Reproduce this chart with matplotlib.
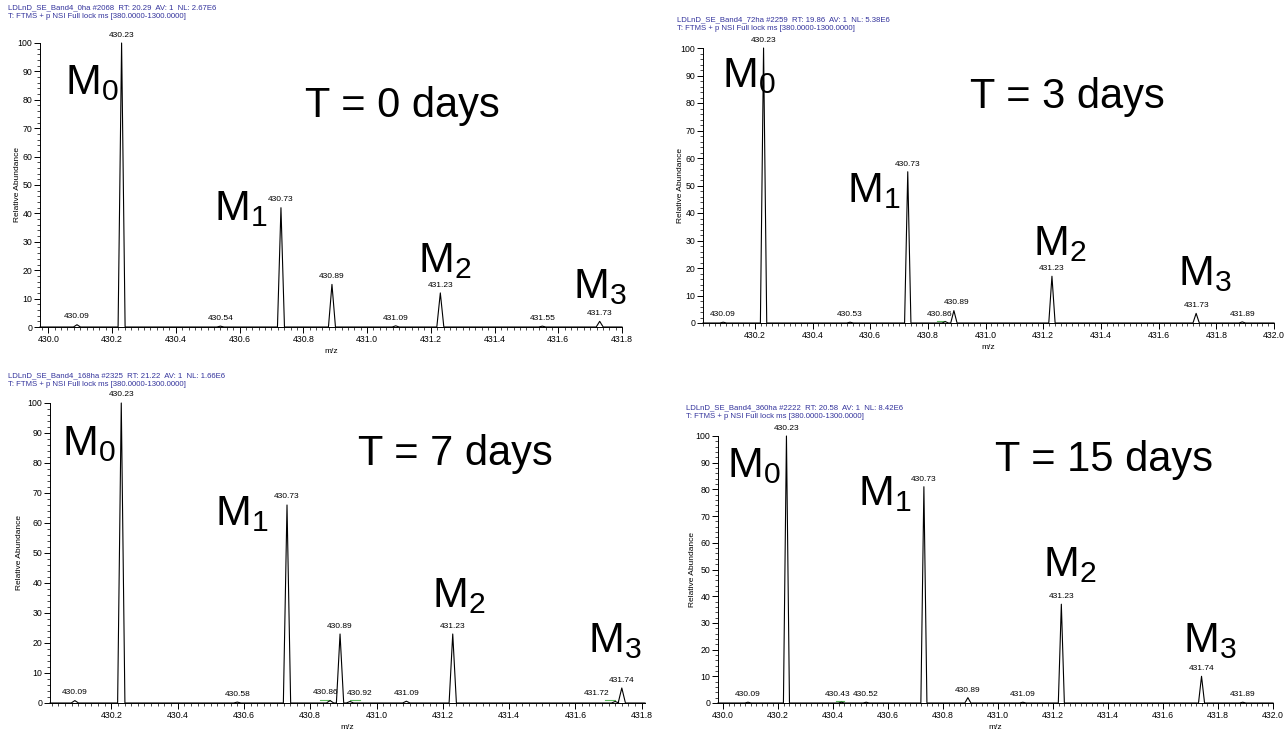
import numpy as np
import matplotlib
matplotlib.use("Agg")
import matplotlib.pyplot as plt
from matplotlib.ticker import MultipleLocator, FormatStrFormatter

# four isotope-envelope spectra (m/z, relative abundance)
mz_0d = [430.09, 430.23, 430.54, 430.73, 430.89, 431.09, 431.23, 431.55, 431.73]
ab_0d = [0.8, 100, 0.3, 42, 15, 0.4, 12, 0.3, 2]

mz_3d = [430.09, 430.23, 430.53, 430.73, 430.86, 430.89, 431.23, 431.73, 431.89]
ab_3d = [0.3, 100, 0.3, 55, 0.5, 4.5, 17, 3.5, 0.4]

mz_7d = [430.09, 430.23, 430.58, 430.73, 430.86, 430.89, 430.92, 431.09, 431.23, 431.72, 431.74]
ab_7d = [0.8, 100, 0.3, 66, 0.8, 23, 0.5, 0.6, 23, 0.5, 5]

mz_15d = [430.09, 430.23, 430.43, 430.52, 430.73, 430.89, 431.09, 431.23, 431.74, 431.89]
ab_15d = [0.3, 100, 0.3, 0.3, 81, 2, 0.3, 37, 10, 0.3]

# small green marks drawn by the software under some labels (m/z from, to)
green_0d = []
green_3d = [(430.83, 430.86)]
green_7d = [(430.83, 430.86), (430.92, 430.95), (431.69, 431.72)]
green_15d = [(430.41, 430.44)]

headers = [
    ("LDLnD_SE_Band4_0ha #2068  RT: 20.29  AV: 1  NL: 2.67E6",
     "T: FTMS + p NSI Full lock ms [380.0000-1300.0000]"),
    ("LDLnD_SE_Band4_72ha #2259  RT: 19.86  AV: 1  NL: 5.38E6",
     "T: FTMS + p NSI Full lock ms [380.0000-1300.0000]"),
    ("LDLnD_SE_Band4_168ha #2325  RT: 21.22  AV: 1  NL: 1.66E6",
     "T: FTMS + p NSI Full lock ms [380.0000-1300.0000]"),
    ("LDLnD_SE_Band4_360ha #2222  RT: 20.58  AV: 1  NL: 8.42E6",
     "T: FTMS + p NSI Full lock ms [380.0000-1300.0000]"),
]
titles = ["T = 0 days", "T = 3 days", "T = 7 days", "T = 15 days"]

font = "Liberation Sans"
blue = "#33339c"

W, H = 1285, 731
fig = plt.figure(figsize=(W / 100, H / 100), dpi=100)

# panel layout in pixels: left, right, top(100), bottom(0)
boxes = [(40, 622, 43, 327), (703, 1274, 48, 323), (50, 645, 403, 703), (718, 1273, 436, 703)]
xlims = [(429.974, 431.8), (430.02, 432.0), (430.015, 431.81), (429.981, 432.0)]
first_tick = [430.0, 430.2, 430.2, 430.0]
ylabel_x = [21, 684, 23, 696]
header_pos = [(8, 8), (677, 20), (8, 376), (686, 408)]
title_pos = [(305, 106), (970, 97), (358, 454), (995, 460)]
# M0..M3 label positions (left x, center y)
m_pos = [
    [(65, 83), (214, 209), (418, 261), (573, 287)],
    [(722, 76), (847, 191), (1033, 244), (1178, 274)],
    [(62, 444), (215, 514), (432, 596), (588, 641)],
    [(727, 466), (858, 494), (1043, 565), (1183, 641)],
]
# horizontal nudges of peak labels (m/z units) where the software moved them aside
nudges = [
    {},
    {430.86: -0.02, 430.89: 0.01},
    {430.86: -0.015, 430.92: 0.03, 431.72: -0.055},
    {430.43: -0.015},
]
spectra = [(mz_0d, ab_0d), (mz_3d, ab_3d), (mz_7d, ab_7d), (mz_15d, ab_15d)]
greens = [green_0d, green_3d, green_7d, green_15d]
half_w = 0.011

for i, (mz, ab) in enumerate(spectra):
    l, r, t, b = boxes[i]
    ax = fig.add_axes([l / W, 1 - b / H, (r - l) / W, (b - t) / H])
    x0, x1 = xlims[i]
    mz = np.array(mz)
    ab = np.array(ab)
    # profile trace: baseline with a narrow triangle for each peak
    xs = np.column_stack([mz - half_w, mz, mz + half_w]).ravel()
    ys = np.column_stack([np.zeros_like(ab), ab, np.zeros_like(ab)]).ravel()
    xs = np.concatenate([[x0], xs, [x1]])
    ys = np.concatenate([[0], ys, [0]])
    ax.plot(xs, ys, color="black", lw=0.8, clip_on=False, zorder=3)
    for g0, g1 in greens[i]:
        ax.plot([g0, g1], [0.9, 0.9], color="#5cb85c", lw=0.8, zorder=2)
    for m, a in zip(mz, ab):
        dx = nudges[i].get(round(m, 2), 0)
        ax.text(m + dx, a + 1.5, f"{m:.2f}", ha="center", va="bottom",
                fontsize=6, family=font, clip_on=False)

    ax.set_xlim(x0, x1)
    ax.set_ylim(0, 100)
    ax.set_xticks(np.arange(first_tick[i], x1 + 0.001, 0.2))
    ax.xaxis.set_major_formatter(FormatStrFormatter("%.1f"))
    ax.xaxis.set_minor_locator(MultipleLocator(0.02))
    ax.yaxis.set_major_locator(MultipleLocator(10))
    ax.yaxis.set_minor_locator(MultipleLocator(2))
    ax.tick_params(which="major", length=4, width=0.7, labelsize=6.3, pad=1.5)
    ax.tick_params(which="minor", length=2, width=0.5)
    for lab in ax.get_xticklabels() + ax.get_yticklabels():
        lab.set_family(font)
    for s in ("top", "right"):
        ax.spines[s].set_visible(False)
    for s in ("left", "bottom"):
        ax.spines[s].set_linewidth(0.7)
    ax.set_xlabel("m/z", fontsize=6, family=font, labelpad=3)
    ax.set_ylabel("Relative Abundance", fontsize=6, family=font)
    ax.yaxis.set_label_coords((ylabel_x[i] - l) / (r - l), 0.5)

    hx, hy = header_pos[i]
    fig.text(hx / W, 1 - hy / H, headers[i][0], fontsize=5.6, family=font,
             color=blue, va="center", ha="left")
    fig.text(hx / W, 1 - (hy + 9) / H, headers[i][1], fontsize=5.6, family=font,
             color=blue, va="center", ha="left")

    tx, ty = title_pos[i]
    fig.text(tx / W, 1 - ty / H, titles[i], fontsize=30, family=font,
             va="center", ha="left")
    for k, (mx, my) in enumerate(m_pos[i]):
        fig.text(mx / W, 1 - my / H, r"$\mathregular{M_%d}$" % k, fontsize=31,
                 family=font, va="center", ha="left")

fig.savefig("out.png", dpi=100, facecolor="white")
